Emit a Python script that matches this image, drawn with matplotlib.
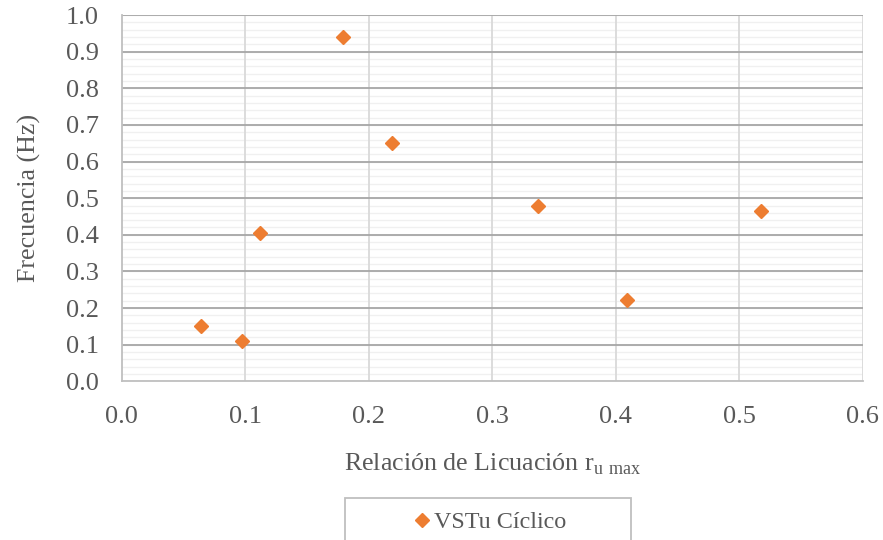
import numpy as np
import matplotlib.pyplot as plt
from matplotlib.patches import Rectangle

plt.rcParams['font.family'] = ['Liberation Serif', 'DejaVu Serif']
plt.rcParams['mathtext.fontset'] = 'custom'
plt.rcParams['mathtext.rm'] = 'Liberation Serif'

# data
ru_max = [0.064, 0.097, 0.112, 0.179, 0.219, 0.337, 0.409, 0.518]
freq = [0.150, 0.110, 0.405, 0.940, 0.650, 0.480, 0.221, 0.464]
series_name = 'VSTu Cíclico'

x_ticks = [0.0, 0.1, 0.2, 0.3, 0.4, 0.5, 0.6]
y_ticks = [0.0, 0.1, 0.2, 0.3, 0.4, 0.5, 0.6, 0.7, 0.8, 0.9, 1.0]
y_minor = np.arange(0, 1.0001, 0.02)

txt = '#595959'
orange = '#ED7D31'

fig = plt.figure(figsize=(8.83, 5.4), dpi=100)
ax = fig.add_axes([0.138, 0.294, 0.839, 0.678])

ax.set_xlim(0, 0.6)
ax.set_ylim(0, 1.0)
ax.set_xticks(x_ticks)
ax.set_yticks(y_ticks)
ax.set_xticklabels(['%.1f' % v for v in x_ticks])
ax.set_yticklabels(['%.1f' % v for v in y_ticks])

# grid drawn by hand so the verticals sit above the faint minor lines
for v in y_minor:
    ax.axhline(v, color='#f0f0f0', lw=1.0, zorder=0.5)
for v in x_ticks[1:]:
    ax.axvline(v, color='#d9d9d9', lw=1.3, zorder=0.8)
for v in y_ticks[1:]:
    ax.axhline(v, color='#a6a6a6', lw=1.3, zorder=0.9)

for s in ['top', 'right']:
    ax.spines[s].set_visible(False)
for s in ['left', 'bottom']:
    ax.spines[s].set_color('#bfbfbf')
    ax.spines[s].set_linewidth(1.3)

ax.tick_params(which='both', length=0)
ax.tick_params(axis='x', pad=17.5, labelsize=19, labelcolor=txt)
ax.tick_params(axis='y', pad=16.5, labelsize=19, labelcolor=txt)

ax.plot(ru_max, freq, linestyle='none', marker='D', ms=7.6,
        color=orange, label=series_name, zorder=3, clip_on=False)

ax.set_xlabel(r'Relación de Licuación r$_{\mathregular{u\ max}}$',
              fontsize=18.7, color=txt, labelpad=17)
ax.set_ylabel('Frecuencia (Hz)', fontsize=18.7, color=txt, labelpad=18)

# legend box (cut off at the bottom like the reference)
fig.patches.append(Rectangle((0.391, -0.05), 0.324, 0.128,
                             transform=fig.transFigure, fill=False,
                             edgecolor='#bfbfbf', lw=1.3))
fig.legend(loc='center', bbox_to_anchor=(0.553, 0.033), frameon=False,
           fontsize=17.4, labelcolor=txt, handletextpad=0.0,
           handlelength=1.0, markerscale=0.9)

fig.savefig('out.png', dpi=100)
